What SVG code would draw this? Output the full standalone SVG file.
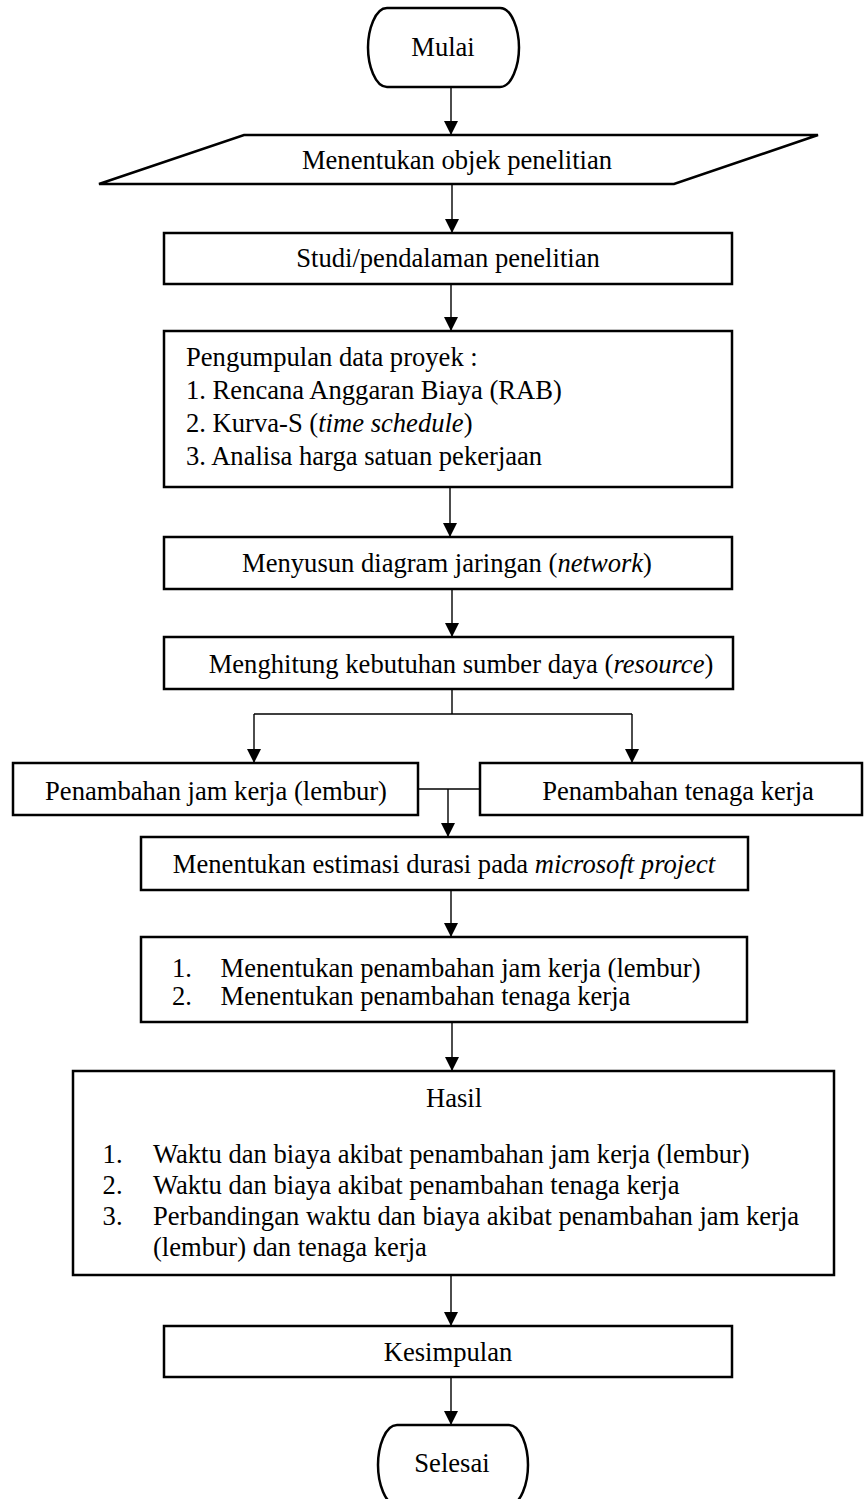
<svg xmlns="http://www.w3.org/2000/svg" width="864" height="1499" viewBox="0 0 864 1499">
<style>
.box{fill:#fff;stroke:#000;stroke-width:2.5}
.t{font-family:"Liberation Serif","Times New Roman",serif;font-size:26.6px;fill:#000}
.c{text-anchor:middle}
.i{font-style:italic}
.conn{fill:none;stroke:#000;stroke-width:1.4}
</style>
<defs>
<marker id="ah" markerWidth="14" markerHeight="14" refX="14" refY="7" orient="auto" markerUnits="userSpaceOnUse" viewBox="0 0 14 14">
<path d="M0,0 L14,7 L0,14 Z" fill="#000"/>
</marker>
</defs>
<rect width="864" height="1499" fill="#fff"/>
<g id="connectors">
<path class="conn" d="M451,87 V135" marker-end="url(#ah)"/>
<path class="conn" d="M452,184 V233" marker-end="url(#ah)"/>
<path class="conn" d="M451,284 V331" marker-end="url(#ah)"/>
<path class="conn" d="M450,487 V537" marker-end="url(#ah)"/>
<path class="conn" d="M452,589 V637" marker-end="url(#ah)"/>
<path class="conn" d="M452,689 V714 M254,714 H632"/>
<path class="conn" d="M254,714 V763" marker-end="url(#ah)"/>
<path class="conn" d="M632,714 V763" marker-end="url(#ah)"/>
<path class="conn" d="M418,789 H480"/>
<path class="conn" d="M448,789 V837" marker-end="url(#ah)"/>
<path class="conn" d="M451,890 V937" marker-end="url(#ah)"/>
<path class="conn" d="M452,1022 V1071" marker-end="url(#ah)"/>
<path class="conn" d="M451,1275 V1326" marker-end="url(#ah)"/>
<path class="conn" d="M451,1377 V1425" marker-end="url(#ah)"/>
</g>
<g id="mulai">
<path class="box" d="M387,8 H500 C512,8 519,30 519,47.5 C519,65 512,87 500,87 H387 C375,87 368,65 368,47.5 C368,30 375,8 387,8 Z"/>
<text class="t c" x="443" y="56">Mulai</text>
</g>
<g id="objek">
<path class="box" d="M244,135 H818 L674,184 H99 Z"/>
<text class="t c" x="457" y="169">Menentukan objek penelitian</text>
</g>
<g id="studi">
<rect class="box" x="164" y="233" width="568" height="51"/>
<text class="t c" x="448" y="267">Studi/pendalaman penelitian</text>
</g>
<g id="pengumpulan">
<rect class="box" x="164" y="331" width="568" height="156"/>
<text class="t" x="186" y="366">Pengumpulan data proyek :</text>
<text class="t" x="186" y="399">1. Rencana Anggaran Biaya (RAB)</text>
<text class="t" x="186" y="432">2. Kurva-S (<tspan class="i">time schedule</tspan>)</text>
<text class="t" x="186" y="465">3. Analisa harga satuan pekerjaan</text>
</g>
<g id="menyusun">
<rect class="box" x="164" y="537" width="568" height="52"/>
<text class="t c" x="447" y="572">Menyusun diagram jaringan (<tspan class="i">network</tspan>)</text>
</g>
<g id="menghitung">
<rect class="box" x="164" y="637" width="569" height="52"/>
<text class="t c" x="461" y="673">Menghitung kebutuhan sumber daya (<tspan class="i">resource</tspan>)</text>
</g>
<g id="lembur">
<rect class="box" x="13" y="763" width="405" height="52"/>
<text class="t c" x="216" y="800">Penambahan jam kerja (lembur)</text>
</g>
<g id="tenaga">
<rect class="box" x="480" y="763" width="382" height="52"/>
<text class="t c" x="678" y="800">Penambahan tenaga kerja</text>
</g>
<g id="estimasi">
<rect class="box" x="141" y="837" width="607" height="53"/>
<text class="t c" x="444" y="873">Menentukan estimasi durasi pada <tspan class="i">microsoft project</tspan></text>
</g>
<g id="menentukan">
<rect class="box" x="141" y="937" width="606" height="85"/>
<text class="t" x="172" y="977">1.</text>
<text class="t" x="220.6" y="977">Menentukan penambahan jam kerja (lembur)</text>
<text class="t" x="172" y="1005">2.</text>
<text class="t" x="220.6" y="1005">Menentukan penambahan tenaga kerja</text>
</g>
<g id="hasil">
<rect class="box" x="73" y="1071" width="761" height="204"/>
<text class="t c" x="454" y="1107">Hasil</text>
<text class="t" x="102.6" y="1163">1.</text>
<text class="t" x="153" y="1163">Waktu dan biaya akibat penambahan jam kerja (lembur)</text>
<text class="t" x="102.6" y="1194">2.</text>
<text class="t" x="153" y="1194">Waktu dan biaya akibat penambahan tenaga kerja</text>
<text class="t" x="102.6" y="1225">3.</text>
<text class="t" x="153" y="1225">Perbandingan waktu dan biaya akibat penambahan jam kerja</text>
<text class="t" x="153" y="1256">(lembur) dan tenaga kerja</text>
</g>
<g id="kesimpulan">
<rect class="box" x="164" y="1326" width="568" height="51"/>
<text class="t c" x="448" y="1361">Kesimpulan</text>
</g>
<g id="selesai">
<path class="box" d="M397,1425 H509 C521,1425 528,1447 528,1465 C528,1483 521,1505 509,1505 H397 C385,1505 378,1483 378,1465 C378,1447 385,1425 397,1425 Z"/>
<text class="t c" x="452" y="1472">Selesai</text>
</g>
</svg>
